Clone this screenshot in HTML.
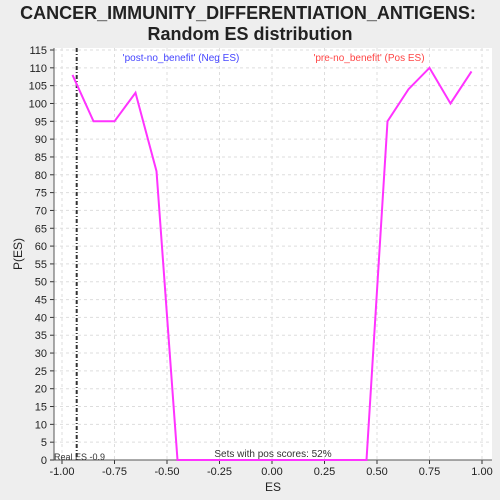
<!DOCTYPE html>
<html><head><meta charset="utf-8"><style>
body{margin:0;background:#eeeeee;font-family:"Liberation Sans",sans-serif}
svg{display:block}
</style></head><body>
<svg id="c" width="500" height="500" xmlns="http://www.w3.org/2000/svg">
<text x="248" y="19" text-anchor="middle" font-size="18" font-weight="bold" fill="#222">CANCER_IMMUNITY_DIFFERENTIATION_ANTIGENS:</text>
<text x="250" y="40" text-anchor="middle" font-size="18" font-weight="bold" fill="#222">Random ES distribution</text>
<rect x="54" y="48" width="438" height="412" fill="#fff"/>
<g id="grid"></g><g id="axes"></g><g id="series"></g>
<text x="273" y="491" text-anchor="middle" font-size="12" fill="#222">ES</text>
<text x="22" y="254" text-anchor="middle" font-size="12" fill="#222" transform="rotate(-90 22 254)">P(ES)</text>
<text x="181" y="61" text-anchor="middle" font-size="10" fill="#4444ff">'post-no_benefit' (Neg ES)</text>
<text x="369" y="61" text-anchor="middle" font-size="10" fill="#ff4444">'pre-no_benefit' (Pos ES)</text>
<text x="273" y="457" text-anchor="middle" font-size="10" fill="#333">Sets with pos scores: 52%</text>
<text x="54" y="460" font-size="9" fill="#333">Real ES -0.9</text>
</svg>
<script>
const xs=[-0.95,-0.85,-0.75,-0.65,-0.55,-0.45,-0.35,-0.25,-0.15,-0.05,0.05,0.15,0.25,0.35,0.45,0.55,0.65,0.75,0.85,0.95];
const ps=[108,95,95,103,81,0,0,0,0,0,0,0,0,0,0,95,104,110,100,109];
const xTicks=[-1,-0.75,-0.5,-0.25,0,0.25,0.5,0.75,1];
const xTickLabels=["-1.00","-0.75","-0.50","-0.25","0.00","0.25","0.50","0.75","1.00"];
const realES=[-0.93];
const NS="http://www.w3.org/2000/svg";
const X=v=>272+v*210, Y=v=>460-v*(410/115);
function mk(t,a,p){const e=document.createElementNS(NS,t);for(const k in a)e.setAttribute(k,a[k]);p.appendChild(e);return e;}
const g=document.getElementById('grid'),ax=document.getElementById('axes'),s=document.getElementById('series');
for(let v=0;v<=115;v+=5){
 const y=Y(v);
 const l=mk('line',{x1:54,x2:492,y1:y,y2:y,stroke:'#ddd','stroke-dasharray':'3,3'},g);
 
 
 const t=mk('line',{x1:50,x2:54,y1:y,y2:y,stroke:'#333'},ax);
 
 
 const tx=mk('text',{x:47,y:y+4,'text-anchor':'end','font-size':11,fill:'#222'},ax);tx.textContent=v;
 
 
}
xTicks.forEach((v,i)=>{
 const x=X(v);
 const l=mk('line',{x1:x,x2:x,y1:48,y2:460,stroke:'#ddd','stroke-dasharray':'3,3'},g);
 
 
 const t=mk('line',{x1:x,x2:x,y1:460,y2:464,stroke:'#333'},ax);
 
 
 const tx=mk('text',{x:x,y:475,'text-anchor':'middle','font-size':11,fill:'#222'},ax);tx.textContent=xTickLabels[i];
 
 
});
const a1=mk('line',{x1:54,x2:54,y1:48,y2:460,stroke:'#555'},ax);


const a2=mk('line',{x1:54,x2:492,y1:460,y2:460,stroke:'#555'},ax);


const rl=mk('line',{x1:X(realES[0]),x2:X(realES[0]),y1:48,y2:460,stroke:'#333','stroke-width':2,'stroke-dasharray':'4,2,1,2'},s);


const pl=mk('polyline',{points:xs.map((v,i)=>X(v)+','+Y(ps[i])).join(' '),fill:'none',stroke:'#ff33ff','stroke-width':2},s);


</script>
</body></html>
